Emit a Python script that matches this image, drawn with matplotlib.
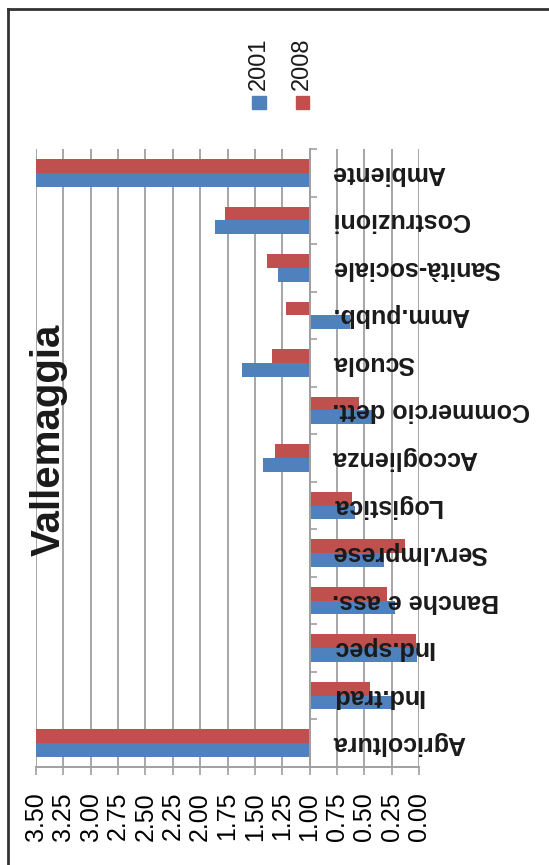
import matplotlib
matplotlib.use("Agg")
import matplotlib.pyplot as plt
from matplotlib.patches import Rectangle
from matplotlib.lines import Line2D
import numpy as np

plt.rcParams['font.family'] = ['Liberation Sans', 'DejaVu Sans']

categories = ["Agricoltura", "Ind.trad", "Ind.spec", "Banche e ass.", "Serv.Imprese",
              "Logistica", "Accoglienza", "Commercio dett.", "Scuola", "Amm.pubb.",
              "Sanità-sociale", "Costruzioni", "Ambiente"]
values_2001 = [3.60, 0.23, 0.02, 0.22, 0.32, 0.585, 1.43, 0.43, 1.62, 0.63, 1.29, 1.865, 3.60]
values_2008 = [3.60, 0.45, 0.025, 0.29, 0.13, 0.615, 1.316, 0.548, 1.346, 1.216, 1.39, 1.77, 3.60]
series_names = ["2001", "2008"]
xticks = [0.00, 0.25, 0.50, 0.75, 1.00, 1.25, 1.50, 1.75, 2.00, 2.25, 2.50, 2.75, 3.00, 3.25, 3.50]
baseline = 1.0
title = "Vallemaggia"

W, H = 549, 865
fig = plt.figure(figsize=(W / 100, H / 100), dpi=100)

def fx(px):
    return px / W

def fy(py):
    return 1 - py / H

ax = fig.add_axes([fx(36), fy(767), fx(419) - fx(36), fy(149) - fy(767)])

blue = "#4F81BD"
red = "#C0504D"
y = np.arange(len(categories))
bh = 0.29
v01 = np.array(values_2001)
v08 = np.array(values_2008)
ax.barh(y - bh / 2, v01 - baseline, left=baseline, height=bh, color=blue, zorder=2)
ax.barh(y + bh / 2, v08 - baseline, left=baseline, height=bh, color=red, zorder=2)

ax.set_xlim(3.5, 0.0)
ax.set_ylim(-0.5, len(categories) - 0.5)

ax.set_xticks(xticks)
ax.set_xticklabels([f"{t:.2f}" for t in xticks], rotation=90, fontsize=18, va='top')
ax.tick_params(axis='x', direction='out', length=6, width=1.2, color='#a0a0a0', pad=12)
ax.grid(axis='x', color='#a6a6a6', lw=1.4, zorder=1)
ax.set_axisbelow(True)

ax.spines['left'].set_position(('data', baseline))
ax.spines['left'].set_color('#a0a0a0')
ax.spines['left'].set_linewidth(1.4)
ax.spines['left'].set_zorder(3)
ax.spines['bottom'].set_color('#a0a0a0')
ax.spines['bottom'].set_linewidth(1.4)
ax.spines['top'].set_visible(False)
ax.spines['right'].set_visible(False)

ax.set_yticks(np.arange(-0.5, len(categories), 1.0))
ax.set_yticklabels([])
ax.tick_params(axis='y', direction='in', length=5, width=1.2, color='#a0a0a0')

trans = matplotlib.transforms.blended_transform_factory(ax.transAxes, ax.transData)
label_x = (332 - 36) / (419 - 36)
for i, c in enumerate(categories):
    ax.text(label_x, i, c, rotation=180, ha='left', va='center', fontsize=18,
            fontweight='bold', transform=trans, zorder=5, color='#1a1a1a')

fig.text(fx(49), fy(440), title, rotation=90, ha='center', va='center',
         fontsize=29, fontweight='bold', color='#1a1a1a')

# legend
for name, col, cx in [(series_names[0], blue, 259), (series_names[1], red, 302.3)]:
    fig.patches.append(Rectangle((fx(cx - 6.5), fy(109)), fx(13), fy(96) - fy(109),
                                 transform=fig.transFigure, color=col))
    fig.text(fx(cx), fy(90), name, rotation=90, ha='center', va='bottom',
             fontsize=17, color='#1a1a1a')

# outer frame (top and left visible)
fig.add_artist(Line2D([fx(8), 1.0], [fy(9), fy(9)], color='#333333', lw=2, transform=fig.transFigure))
fig.add_artist(Line2D([fx(8), fx(8)], [fy(9), 0.0], color='#333333', lw=2, transform=fig.transFigure))

fig.savefig("out.png", dpi=100)
